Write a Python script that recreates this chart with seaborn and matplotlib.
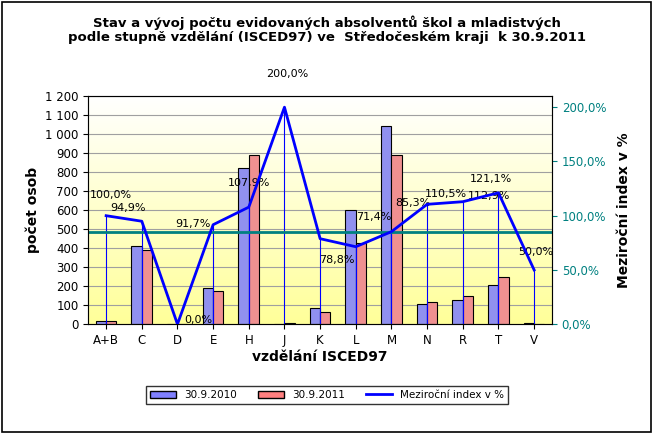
import matplotlib
matplotlib.use("Agg")
import matplotlib.pyplot as plt
import seaborn as sns
import numpy as np
import pandas as pd
from matplotlib.lines import Line2D
from matplotlib.patches import Patch
from matplotlib.colors import LinearSegmentedColormap

categories = ["A+B","C","D","E","H","J","K","L","M","N","R","T","V"]
y2010 = [15,410,3,190,825,3,85,600,1045,105,130,205,6]
y2011 = [15,390,0,175,890,6,65,428,891,116,147,248,3]
index = [100.0,94.9,0.0,91.7,107.9,200.0,78.8,71.4,85.3,110.5,112.9,121.1,50.0]
total_index = 85.3
label_offsets_px = [(5,21),(-14,13),(21,4),(-20,1),(0,24),(3,33),(17,-21),(18,30),(21,29),(19,10),(26,6),(-8,14),(2,18)]

df = pd.DataFrame({"cat": categories*2, "val": y2010+y2011,
                   "rok": ["30.9.2010"]*13 + ["30.9.2011"]*13})

fig = plt.figure(figsize=(6.54,4.34), dpi=100)
fig.patch.set_facecolor("white")
ax = fig.add_axes([0.135, 0.253, 0.709, 0.525])
ax.set_ylim(0,1200); ax.set_xlim(-0.5,12.5)
grad = np.linspace(0,1,256).reshape(-1,1)
cm = LinearSegmentedColormap.from_list("g", ["#ffff99","#ffffff"])
ax.imshow(grad, aspect="auto", cmap=cm, extent=[-0.5,12.5,0,1200], origin="lower", zorder=0)
for v in range(100,1201,100):
    ax.axhline(v, color="#a0a0a0", lw=0.8, zorder=1)
sns.barplot(data=df, x="cat", y="val", hue="rok", palette=["#8080ff","#ff8080"],
            edgecolor="black", linewidth=0.8, width=0.58, ax=ax, legend=False, zorder=2)
ax.set_xlim(-0.5,12.5)
ax.set_yticks(range(0,1201,100))
ax.set_yticklabels([f"{v:,}".replace(","," ") for v in range(0,1201,100)], fontsize=8.5)
ax.tick_params(axis="x", labelsize=8.5)
ax.set_xlabel("vzdělání ISCED97", fontsize=10, fontweight="bold", labelpad=2)
ax.set_ylabel("počet osob", fontsize=10, fontweight="bold")
for s in ax.spines.values(): s.set_color("#808080")

ax2 = ax.twinx()
ax2.set_ylim(0,210)
x = np.arange(13)
ax2.plot(x, index, color="#0000ff", lw=2, zorder=5)
ax2.vlines(x, 0, index, color="#0000ff", lw=0.8)
ax2.axhline(total_index, color="#008080", lw=2)
for xi, v, (dx, dy) in zip(x, index, label_offsets_px):
    ax2.annotate(f"{v:.1f}%".replace(".",","), (xi, v), xytext=(dx*0.72, dy*0.72), textcoords="offset points",
                 ha="center", va="center", fontsize=8, annotation_clip=False)
ax2.set_yticks([0,50,100,150,200])
ax2.set_yticklabels(["0,0%","50,0%","100,0%","150,0%","200,0%"], fontsize=8.5, color="#008080")
ax2.tick_params(axis="y", colors="#008080")
ax2.set_ylabel("Meziroční index v %", fontsize=10, fontweight="bold", labelpad=8)

fig.text(0.5, 0.965, "Stav a vývoj počtu evidovaných absolventů škol a mladistvých\npodle stupně vzdělání (ISCED97) ve  Středočeském kraji  k 30.9.2011",
         ha="center", va="top", fontsize=9.5, fontweight="bold", linespacing=1.15)
handles = [Patch(facecolor="#8080ff", edgecolor="black", label="30.9.2010"),
           Patch(facecolor="#ff8080", edgecolor="black", label="30.9.2011"),
           Line2D([0],[0], color="#0000ff", lw=2, label="Meziroční index v %")]
fig.legend(handles=handles, loc="center", bbox_to_anchor=(0.5, 0.09), ncol=3, fontsize=7.5,
           frameon=True, edgecolor="black", fancybox=False, handlelength=2.5)
fig.add_artist(plt.Rectangle((0.003,0.005),0.992,0.99, transform=fig.transFigure, fill=False, edgecolor="black", lw=1.2))
fig.savefig("out.png", dpi=100)
